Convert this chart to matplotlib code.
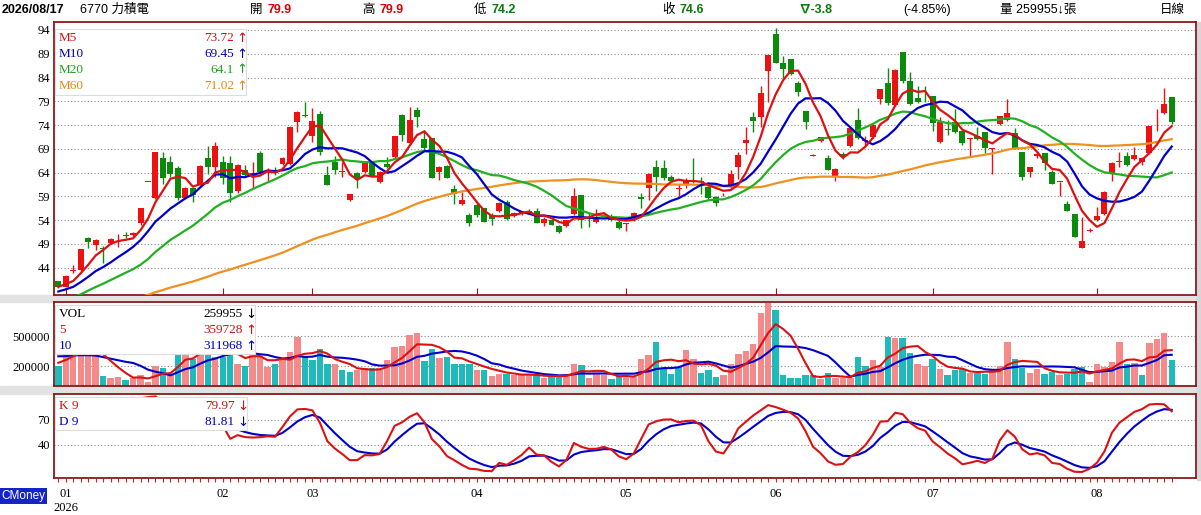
import numpy as np
import pandas as pd
import matplotlib
matplotlib.use('Agg')
import matplotlib.pyplot as plt
from matplotlib.patches import Rectangle

plt.rcParams['font.family'] = ['Liberation Serif', 'Noto Sans CJK TC', 'DejaVu Sans']

# 日K資料 2025/12/31 ~ 2026/08/17
opens = [41.1, 40.0, 43.3, 43.6, 50.2, 48.8, 48.1, 49.1, 50.8, 50.9,
         50.9, 53.3, 62.1, 58.7, 67.0, 66.2, 64.9, 58.7, 60.7, 61.7,
         67.0, 65.2, 66.3, 66.0, 60.2, 64.5, 63.3, 68.1, 64.0, 64.6,
         65.8, 65.9, 74.7, 76.2, 71.6, 76.3, 63.4, 66.2, 64.1, 58.2,
         64.0, 64.2, 66.3, 62.1, 65.8, 67.2, 76.1, 70.3, 77.2, 71.1,
         71.2, 64.2, 65.4, 60.5, 57.5, 55.1, 57.2, 56.5, 55.1, 56.0,
         57.9, 54.9, 55.5, 56.0, 56.0, 53.5, 54.0, 52.8, 52.8, 55.4,
         59.2, 54.6, 53.7, 55.2, 54.9, 53.7, 53.2, 54.0, 58.9, 60.7,
         65.2, 64.9, 63.1, 60.6, 61.7, 63.1, 62.3, 61.0, 58.9, 59.4,
         61.0, 65.2, 70.2, 75.8, 75.8, 85.4, 93.2, 87.0, 87.8, 82.8,
         77.0, 67.5, 70.7, 67.1, 63.1, 68.0, 69.6, 75.1, 70.6, 71.4,
         79.4, 82.9, 78.2, 89.3, 83.3, 79.8, 79.7, 80.1, 70.5, 73.2,
         74.7, 72.8, 71.1, 71.8, 72.5, 69.0, 74.2, 75.1, 72.4, 68.3,
         64.2, 67.4, 68.2, 64.1, 62.0, 57.5, 55.3, 48.2, 51.8, 54.0,
         55.2, 63.8, 66.3, 67.5, 66.8, 66.3, 68.2, 75.0, 76.6, 79.9]
highs = [41.3, 42.4, 44.6, 48.0, 50.5, 50.0, 48.6, 50.2, 51.0, 51.6,
         51.6, 56.5, 62.1, 68.3, 68.4, 67.5, 65.3, 60.9, 61.0, 65.6,
         69.5, 70.5, 67.5, 67.4, 65.8, 65.5, 66.3, 68.6, 65.0, 65.2,
         67.3, 73.8, 76.9, 78.9, 77.6, 77.0, 65.3, 67.5, 66.3, 59.6,
         64.2, 66.4, 66.5, 64.4, 67.3, 71.8, 76.4, 77.7, 77.9, 72.9,
         71.3, 65.4, 65.6, 61.4, 60.0, 55.6, 57.6, 56.6, 55.6, 57.8,
         58.3, 55.8, 55.9, 56.3, 56.5, 54.6, 54.2, 53.0, 54.1, 60.7,
         59.3, 55.5, 56.3, 55.8, 55.3, 54.0, 53.3, 55.8, 59.8, 63.9,
         66.6, 66.6, 63.5, 61.7, 62.9, 67.0, 63.1, 62.1, 59.0, 59.8,
         64.5, 68.3, 73.7, 76.8, 82.2, 88.7, 94.4, 88.5, 87.8, 83.3,
         77.0, 68.0, 71.4, 67.8, 64.9, 68.3, 73.4, 77.5, 71.6, 74.2,
         81.6, 85.9, 85.7, 89.3, 85.2, 82.2, 82.2, 80.2, 75.8, 75.0,
         77.3, 72.9, 71.3, 73.5, 72.6, 69.2, 76.0, 79.4, 73.3, 68.3,
         65.1, 68.5, 68.2, 64.6, 62.1, 58.1, 55.4, 54.7, 52.3, 56.8,
         60.1, 66.2, 68.4, 68.4, 69.3, 67.3, 73.9, 77.3, 81.7, 79.9]
lows = [39.8, 39.9, 42.8, 43.4, 48.2, 47.7, 44.9, 48.9, 48.4, 50.2,
        50.7, 53.0, 62.1, 58.5, 61.7, 63.0, 58.3, 58.5, 57.9, 61.5,
        63.8, 63.1, 61.7, 57.9, 59.8, 63.0, 60.7, 64.0, 62.3, 63.6,
        65.6, 65.7, 72.6, 75.8, 70.5, 67.7, 61.5, 63.7, 63.1, 58.1,
        60.7, 64.0, 63.1, 61.9, 65.0, 67.0, 70.7, 69.8, 73.7, 68.8,
        62.8, 62.4, 62.8, 57.3, 57.2, 52.8, 54.6, 53.6, 52.9, 55.8,
        54.0, 54.7, 55.0, 55.4, 53.3, 52.8, 52.9, 51.4, 52.6, 55.1,
        52.3, 52.5, 53.4, 54.8, 53.9, 52.1, 51.8, 53.8, 56.5, 58.2,
        60.2, 62.5, 62.0, 59.0, 60.7, 61.9, 59.6, 58.3, 57.0, 59.0,
        60.6, 62.6, 68.0, 72.6, 73.7, 78.9, 87.1, 83.8, 84.6, 80.1,
        73.1, 67.5, 70.5, 64.6, 62.3, 66.8, 69.3, 71.0, 69.6, 71.2,
        78.4, 78.2, 78.0, 82.8, 78.3, 78.7, 78.9, 72.7, 70.3, 72.0,
        72.4, 69.8, 67.2, 70.9, 68.2, 63.7, 74.0, 74.9, 69.0, 62.4,
        63.1, 67.0, 64.6, 61.6, 59.1, 56.0, 50.5, 48.2, 51.6, 53.9,
        55.0, 62.3, 65.2, 65.4, 66.7, 65.6, 68.0, 72.8, 76.4, 74.2]
closes = [40.0, 42.2, 43.5, 47.9, 49.5, 49.8, 47.9, 50.0, 50.9, 50.7,
          51.4, 56.5, 62.1, 68.3, 62.8, 63.8, 58.7, 60.7, 59.3, 65.4,
          65.2, 69.6, 62.8, 59.8, 65.5, 63.5, 63.9, 64.2, 64.5, 64.0,
          67.0, 73.7, 76.8, 76.0, 74.9, 68.4, 61.5, 64.6, 64.2, 59.5,
          62.6, 66.3, 63.3, 64.2, 65.2, 71.7, 71.9, 75.1, 75.6, 69.1,
          62.9, 65.2, 62.9, 59.6, 58.2, 53.3, 55.1, 53.7, 54.2, 57.7,
          54.2, 55.6, 55.7, 55.8, 53.5, 54.2, 53.0, 51.6, 54.0, 59.1,
          54.0, 54.2, 54.7, 55.3, 54.0, 52.3, 53.2, 55.6, 58.4, 63.8,
          63.0, 62.8, 62.3, 60.7, 62.4, 63.0, 62.0, 58.7, 57.7, 59.5,
          63.8, 67.7, 70.9, 74.9, 80.7, 88.7, 87.1, 85.8, 84.7, 81.0,
          74.7, 67.6, 71.4, 64.6, 64.8, 67.2, 73.3, 71.2, 70.8, 74.0,
          81.5, 78.7, 85.6, 83.3, 78.4, 78.9, 79.6, 74.5, 74.7, 73.0,
          72.6, 70.2, 71.2, 71.0, 69.1, 69.2, 75.9, 76.5, 69.1, 63.1,
          65.1, 68.0, 66.1, 61.6, 62.0, 56.0, 50.5, 49.6, 52.0, 54.9,
          60.0, 66.1, 66.5, 65.6, 67.7, 67.0, 73.8, 75.1, 78.4, 74.6]
volumes = [200, 400, 420, 410, 340, 320, 105, 85, 92, 56,
           85, 111, 36, 203, 184, 111, 420, 400, 266, 430,
           410, 290, 289, 400, 223, 200, 380, 298, 193, 223,
           266, 341, 489, 298, 256, 370, 216, 216, 157, 144,
           157, 177, 177, 177, 262, 390, 403, 511, 528, 249,
           374, 282, 295, 223, 216, 216, 157, 164, 105, 125,
           125, 108, 108, 108, 108, 85, 98, 98, 118, 223,
           210, 85, 125, 108, 75, 98, 100, 92, 266, 315,
           439, 177, 125, 190, 361, 275, 134, 157, 95, 108,
           223, 321, 354, 420, 734, 833, 764, 111, 79, 79,
           111, 111, 69, 134, 79, 79, 85, 289, 200, 256,
           190, 495, 479, 479, 331, 223, 200, 272, 167, 108,
           157, 167, 134, 134, 125, 157, 200, 446, 272, 184,
           134, 174, 125, 144, 111, 118, 167, 193, 36, 216,
           193, 243, 439, 223, 233, 111, 430, 472, 528, 259.955]  # 千張

# 畫面左側之前的收盤價與量 (供均線起算, 估計)
pre_closes = [33.1, 33.6, 34.2, 33.8, 33.0, 32.6, 33.3, 34.0, 34.5, 34.1, 33.5, 33.9,
              34.4, 34.9, 34.2, 33.6, 33.9, 34.6, 35.1, 34.7, 34.0, 33.5, 33.8, 34.3,
              34.8, 35.2, 34.6, 34.1, 33.7, 33.2, 33.6, 34.2, 34.7, 35.0, 34.5, 33.9,
              33.4, 33.8, 34.3, 34.9, 34.4, 33.9,
              33.6, 34.1, 34.5, 34.0, 34.6, 35.2, 35.8, 36.4,
              37.6, 38.3, 37.9, 38.4, 37.8,
              39.4, 40.2, 39.8, 40.6]
pre_volumes = [380, 350, 390, 340, 355, 260, 230, 250, 225]
kd_start = 85.0   # 起始 K、D 值 (估計)

month_pos = [1, 22, 34, 56, 76, 96, 117, 139]
month_labels = ['01', '02', '03', '04', '05', '06', '07', '08']

n = len(closes)
x = np.arange(n)
o = np.array(opens); h = np.array(highs); l = np.array(lows); c = np.array(closes)
v = np.array(volumes) * 1000

allc = pd.Series(pre_closes + closes)
ma = {k: allc.rolling(k).mean().values[-n:] for k in (5, 10, 20, 60)}
allv = pd.Series(pre_volumes + list(volumes)) * 1000
vma5 = allv.rolling(5).mean().values[-n:]
vma10 = allv.rolling(10).mean().values[-n:]

low9 = pd.Series(lows).rolling(9, min_periods=1).min().values
high9 = pd.Series(highs).rolling(9, min_periods=1).max().values
rsv = (c - low9) / (high9 - low9) * 100
K = np.zeros(n); D = np.zeros(n)
kp, dp = kd_start, kd_start
for i in range(n):
    kp = kp * 2 / 3 + rsv[i] / 3
    dp = dp * 2 / 3 + kp / 3
    K[i] = kp; D[i] = dp

W, H = 1201, 515
fig = plt.figure(figsize=(W / 100, H / 100), dpi=100)
fig.patch.set_facecolor('white')

def fx(px):
    return px / W

def fy(py):
    return 1 - py / H

def px_axes(x0, y0, x1, y1):
    return fig.add_axes([fx(x0), fy(y1), (x1 - x0) / W, (y1 - y0) / H])

# 區塊之間的灰條
for y0, y1 in [(295, 302), (386, 394)]:
    fig.add_artist(Rectangle((0, fy(y1)), fx(1197), (y1 - y0) / H,
                             transform=fig.transFigure, color='#E2E2E2', zorder=0))
fig.add_artist(Rectangle((fx(1197), fy(480)), fx(4), 458 / H,
                         transform=fig.transFigure, color='#D6D6D6', zorder=0))

ax_p = px_axes(54, 22, 1196, 295)
ax_v = px_axes(54, 302, 1196, 386)
ax_k = px_axes(54, 394, 1196, 478)

frame = '#8B1A1A'
grid_kw = dict(color='#8C8C8C', linestyle=(0, (1, 2)), linewidth=0.8)
for ax in (ax_p, ax_v, ax_k):
    ax.set_xlim(-0.58, 152.25)
    for s in ax.spines.values():
        s.set_color(frame)
        s.set_linewidth(1.3)
    ax.tick_params(axis='y', length=0, labelsize=9, pad=3)
    ax.set_axisbelow(True)

# K線
red, green = '#EE1111', '#0B8A0B'
up = c >= o
cols = np.where(up, red, green)
ax_p.vlines(x, l, h, colors=cols, linewidth=1.0, zorder=2)
body = np.maximum(np.abs(c - o), 0.15)
ax_p.bar(x, body, bottom=np.minimum(o, c), width=0.8, color=cols, linewidth=0, zorder=3)
ma_cols = {5: '#DD1111', 10: '#0000CC', 20: '#22B022', 60: '#F0901E'}
for k in (60, 20, 10, 5):
    ax_p.plot(x, ma[k], color=ma_cols[k], linewidth=1.6, zorder=4)
ax_p.set_ylim(38.26, 95.68)
ax_p.set_yticks(np.arange(44, 95, 5))
ax_p.grid(axis='y', **grid_kw)
ax_p.set_xticks(month_pos)
ax_p.tick_params(axis='x', direction='in', length=5, color=frame, labelbottom=False)

# 成交量
prev = np.concatenate([[pre_closes[-1]], c[:-1]])
vcols = np.where(c >= prev, '#F68A8A', '#1FBABA')
ax_v.bar(x, v, width=0.86, color=vcols, linewidth=0, zorder=2)
ax_v.plot(x, vma10, color='#0000CC', linewidth=1.5, zorder=3)
ax_v.plot(x, vma5, color='#DD1111', linewidth=1.5, zorder=4)
ax_v.set_ylim(0, 843000)
ax_v.set_yticks([200000, 500000, 800000])
ax_v.set_yticklabels(['200000', '500000', ''])
ax_v.grid(axis='y', **grid_kw)
ax_v.tick_params(axis='x', length=0, labelbottom=False)

# KD
ax_k.plot(x, D, color='#0000CC', linewidth=1.5, zorder=3)
ax_k.plot(x, K, color='#DD1111', linewidth=1.5, zorder=4)
ax_k.set_ylim(0, 101)
ax_k.set_yticks([40, 70])
ax_k.grid(axis='y', **grid_kw)
ax_k.set_xticks(x)
ax_k.tick_params(axis='x', direction='out', length=3, color='#CC2222', labelbottom=False)

# 月份標籤
for pos, lab in zip(month_pos, month_labels):
    xf = fx(54 + (pos + 0.58) / 152.83 * 1142)
    fig.text(xf, fy(494), lab, ha='center', va='center', fontsize=9)
fig.text(fx(54 + 1.58 / 152.83 * 1142), fy(508), '2026', ha='center', va='center', fontsize=9)
fig.text(fx(1), fy(496), 'CMoney', ha='left', va='center', fontsize=8.5, color='white',
         family=['Liberation Sans', 'DejaVu Sans'],
         bbox=dict(facecolor='#1424C8', edgecolor='none', pad=1.2))

# 圖例框
def legend_box(x0, y0, x1, y1, rows):
    fig.add_artist(Rectangle((fx(x0), fy(y1)), (x1 - x0) / W, (y1 - y0) / H,
                             transform=fig.transFigure, facecolor='white',
                             edgecolor='#DDDDDD', linewidth=0.8, zorder=5))
    for yy, name, val, arrow, col in rows:
        fig.text(fx(x0 + 4), fy(yy), name, color=col, fontsize=9.5, va='center', zorder=6)
        fig.text(fx(x1 - 12), fy(yy), val, color=col, fontsize=9.5, va='center', ha='right', zorder=6)
        fig.text(fx(x1 - 10), fy(yy), arrow, color=col, fontsize=9.5, va='center', ha='left',
                 family=['DejaVu Sans'], zorder=6)

legend_box(55, 29, 246, 95, [(38, 'M5', '73.72', '↑', '#CC1111'),
                             (54, 'M10', '69.45', '↑', '#0000BB'),
                             (70, 'M20', '64.1', '↑', '#1EA01E'),
                             (86, 'M60', '71.02', '↑', '#E8861A')])
legend_box(55, 305, 255, 354, [(314, 'VOL', '259955', '↓', 'black'),
                               (330, '5', '359728', '↑', '#CC1111'),
                               (346, '10', '311968', '↑', '#0000BB')])
legend_box(55, 397, 247, 430, [(406, 'K 9', '79.97', '↓', '#CC1111'),
                               (422, 'D 9', '81.81', '↓', '#0000BB')])

# 標頭
hfam = ['Liberation Sans', 'Noto Sans CJK TC', 'DejaVu Sans']
def htxt(px, s, col='black', bold=False):
    fig.text(fx(px), fy(10), s, color=col, fontsize=9, va='center', family=hfam,
             fontweight='bold' if bold else 'normal')

htxt(2, '2026/08/17', bold=True)
htxt(80, '6770 力積電')
htxt(250, '開'); htxt(267, '79.9', '#DD0000', True)
htxt(362, '高'); htxt(379, '79.9', '#DD0000', True)
htxt(474, '低'); htxt(491, '74.2', '#0A7A0A', True)
htxt(662, '收'); htxt(679, '74.6', '#0A7A0A', True)
htxt(798, '∇-3.8', '#0A7A0A', True)
htxt(903, '(-4.85%)')
htxt(1000, '量 259955↓張')
htxt(1160, '日線')

fig.savefig('out.png', dpi=100)
